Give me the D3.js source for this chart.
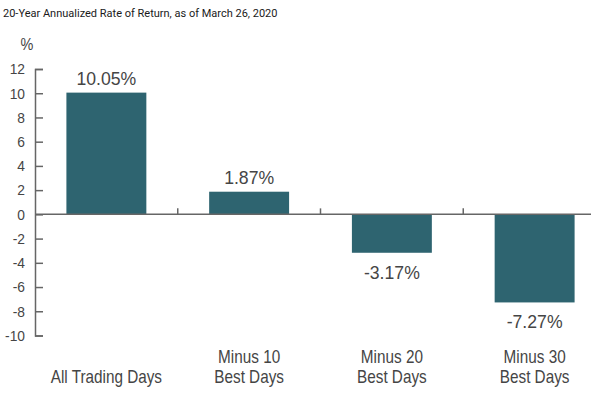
<!DOCTYPE html>
<html>
<head>
<meta charset="utf-8">
<script src="https://cdn.jsdelivr.net/npm/d3@7"></script>
<style>
  body { margin: 0; background: #fff; }
  svg { display: block; }
  .cond { font-family: "Liberation Sans", Arial, sans-serif; fill: #454545; }
</style>
</head>
<body>
<svg width="591" height="396"></svg>
<script>
var categories = [["All Trading Days"], ["Minus 10", "Best Days"], ["Minus 20", "Best Days"], ["Minus 30", "Best Days"]];
var values = [10.05, 1.87, -3.17, -7.27];
var valueLabels = ["10.05%", "1.87%", "-3.17%", "-7.27%"];
var yTicks = [12, 10, 8, 6, 4, 2, 0, -2, -4, -6, -8, -10];
var title = "20-Year Annualized Rate of Return, as of March 26, 2020";

var svg = d3.select("svg"),
    width = +svg.attr("width");

var x = d3.scaleBand()
    .domain(d3.range(categories.length))
    .range([35, 606])
    .paddingInner(0.44)
    .paddingOuter(0.22);

var y = d3.scaleLinear().domain([-10, 12]).range([335.5, 69]);

// condensed-looking text: regular face squeezed horizontally
function condText(parent, tx, ty, sx, size, str) {
    return parent.append("g")
        .attr("transform", "translate(" + tx + "," + ty + ")")
        .append("text")
        .attr("class", "cond")
        .attr("transform", "scale(" + sx + ",1)")
        .attr("text-anchor", "middle")
        .attr("font-size", size)
        .text(str);
}

svg.append("text")
    .attr("x", 3).attr("y", 17)
    .attr("font-family", "Roboto, sans-serif")
    .attr("font-size", 11)
    .attr("fill", "#1a1a1a")
    .text(title);

condText(svg, 27, 50, 0.85, 17, "%");

// y axis, ticks point inward
var yAxis = d3.axisLeft(y)
    .tickValues(yTicks)
    .tickFormat(function (d) { return String(d); })
    .tickSizeInner(-8)
    .tickSizeOuter(-8)
    .tickPadding(10);

var ga = svg.append("g")
    .attr("transform", "translate(35,0)")
    .call(yAxis);
ga.selectAll("path, line").attr("stroke", "#666").attr("stroke-width", 1.5);
ga.selectAll("text")
    .attr("class", "cond")
    .attr("font-family", null)
    .attr("font-size", 15)
    .attr("x", -10 / 0.92)
    .attr("transform", "scale(0.92,1)");
ga.attr("font-family", null);

// bars
svg.selectAll("rect.bar")
    .data(values)
    .enter().append("rect")
    .attr("class", "bar")
    .attr("x", function (d, i) { return x(i); })
    .attr("width", x.bandwidth())
    .attr("y", function (d) { return y(Math.max(0, d)); })
    .attr("height", function (d) { return Math.abs(y(d) - y(0)); })
    .attr("fill", "#2e6470");

// zero line
svg.append("line")
    .attr("x1", 35).attr("x2", width)
    .attr("y1", y(0)).attr("y2", y(0))
    .attr("stroke", "#666").attr("stroke-width", 1.5);

// separators between categories
svg.selectAll("line.sep")
    .data(d3.range(1, categories.length))
    .enter().append("line")
    .attr("class", "sep")
    .attr("x1", function (i) { return x(i) - x.step() * x.paddingInner() / 2; })
    .attr("x2", function (i) { return x(i) - x.step() * x.paddingInner() / 2; })
    .attr("y1", y(0)).attr("y2", y(0) - 6)
    .attr("stroke", "#666").attr("stroke-width", 1.5);

// value labels
values.forEach(function (d, i) {
    condText(svg, x(i) + x.bandwidth() / 2, d >= 0 ? y(d) - 8 : y(d) + 26, 0.98, 18, valueLabels[i]);
});

// category labels, bottom aligned
categories.forEach(function (lines, i) {
    lines.forEach(function (t, j) {
        var k = lines.length - 1 - j;
        condText(svg, x(i) + x.bandwidth() / 2, 383 - k * 20.5, 0.85, 18, t);
    });
});
</script>
</body>
</html>
